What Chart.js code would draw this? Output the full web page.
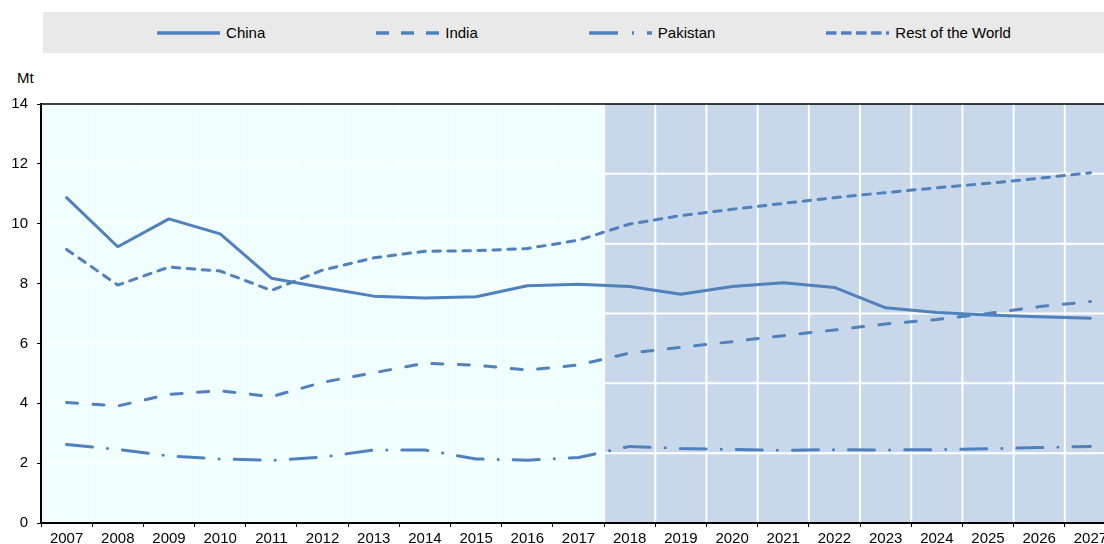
<!DOCTYPE html>
<html>
<head>
<meta charset="utf-8">
<script src="https://cdn.jsdelivr.net/npm/chart.js@4"></script>
<style>
  html, body { margin: 0; padding: 0; overflow: hidden; background: #fff; }
  body { width: 1104px; height: 544px; position: relative; font-family: "Liberation Sans", Arial, sans-serif; }
  #legend {
    position: absolute; left: 43px; top: 12px; width: 1082px; height: 41px;
    background: #e9e9e9; display: flex; justify-content: center; align-items: center; gap: 111px;
    font-size: 15px; color: #000;
  }
  .item { display: flex; align-items: center; }
  .item svg { margin-right: 6px; }
  #unit { position: absolute; left: 17px; top: 69px; font-size: 15px; line-height: 17px; color: #000; }
  #myChart { position: absolute; left: 0; top: 0; }
</style>
</head>
<body>
<div id="legend"></div>
<div id="unit">Mt</div>
<canvas id="myChart" width="1116" height="544"></canvas>
<script>
// años y valores (Mt)
const years = ["2007", "2008", "2009", "2010", "2011", "2012", "2013", "2014", "2015", "2016", "2017",
               "2018", "2019", "2020", "2021", "2022", "2023", "2024", "2025", "2026", "2027"]
const china = [10.87, 9.23, 10.16, 9.66, 8.18, 7.87, 7.58, 7.52, 7.56, 7.93, 7.98,
               7.9, 7.64, 7.9, 8.03, 7.87, 7.19, 7.03, 6.95, 6.89, 6.84]
const india = [4.03, 3.91, 4.3, 4.42, 4.22, 4.7, 5.02, 5.34, 5.27, 5.11, 5.28,
               5.68, 5.87, 6.06, 6.26, 6.45, 6.65, 6.8, 7.0, 7.23, 7.4]
const pakistan = [2.62, 2.46, 2.24, 2.14, 2.09, 2.2, 2.44, 2.44, 2.14, 2.1, 2.19,
                  2.56, 2.49, 2.46, 2.43, 2.45, 2.44, 2.45, 2.48, 2.52, 2.56]
const restWorld = [9.14, 7.95, 8.55, 8.42, 7.77, 8.45, 8.86, 9.08, 9.1, 9.17, 9.45,
                   9.99, 10.27, 10.48, 10.68, 10.87, 11.04, 11.2, 11.35, 11.52, 11.7]
const yTicks = [0, 2, 4, 6, 8, 10, 12, 14]
const projectionStart = "2018"
const projectionRows = 6

const azul = "#4f81bd"
const series = [
    { label: "China", data: china, dash: [], legendDash: "" },
    { label: "India", data: india, dash: [11, 15.5], legendDash: "13 12" },
    { label: "Pakistan", data: pakistan, dash: [26, 15, 0.1, 15], legendDash: "29 14 2 13" },
    { label: "Rest of the World", data: restWorld, dash: [7.5, 7.5], legendDash: "10.5 4.5" }
]

// leyenda en html
const legend = document.getElementById("legend")
legend.innerHTML = ""
for (const s of series) {
    legend.innerHTML += `<div class="item">
        <svg width="63" height="10"><line x1="0" y1="5" x2="63" y2="5" stroke="${azul}" stroke-width="3.5"
        ${s.legendDash ? `stroke-dasharray="${s.legendDash}"` : ""}/></svg>
        <span>${s.label}</span></div>`
}

// fondo y zona de proyeccion
const fondo = {
    id: "fondo",
    beforeDraw(chart) {
        const { ctx, chartArea: a } = chart
        ctx.save()
        ctx.fillStyle = "#f0feff"
        ctx.fillRect(a.left, a.top, a.right - a.left, a.bottom - a.top)
        ctx.restore()
    },
    beforeDatasetsDraw(chart) {
        const { ctx, chartArea: a, scales } = chart
        const x = scales.x, y = scales.y
        const band = x.getPixelForValue(1) - x.getPixelForValue(0)
        const start = years.indexOf(projectionStart)
        const x0 = x.getPixelForValue(start) - band / 2
        const top = y.getPixelForValue(yTicks[yTicks.length - 1])
        const bottom = y.getPixelForValue(0)
        ctx.save()
        ctx.fillStyle = "#c8d7ea"
        ctx.fillRect(x0, top, a.right - x0, bottom - top)
        ctx.strokeStyle = "#fff"
        ctx.lineWidth = 2
        ctx.beginPath()
        for (let i = start; i <= years.length; i++) {
            const px = x.getPixelForValue(i) - band / 2
            ctx.moveTo(px, top); ctx.lineTo(px, bottom)
        }
        for (let r = 1; r < projectionRows; r++) {
            const py = top + (bottom - top) * r / projectionRows
            ctx.moveTo(x0, py); ctx.lineTo(a.right, py)
        }
        ctx.stroke()
        ctx.strokeStyle = "#000"
        ctx.lineWidth = 1.5
        ctx.beginPath()
        ctx.moveTo(a.left, top); ctx.lineTo(a.right, top)
        ctx.stroke()
        ctx.restore()
    }
}

const fuente = { family: "'Liberation Sans', Arial, sans-serif", size: 15 }

const grafico = document.getElementById("myChart").getContext("2d")
const myChart = new Chart(grafico, {
    type: "line",
    data: {
        labels: years,
        datasets: series.map(s => ({
            label: s.label,
            data: s.data,
            borderColor: azul,
            borderWidth: 3,
            borderDash: s.dash,
            borderCapStyle: "round",
            borderJoinStyle: "round",
            pointRadius: 0,
            tension: 0,
            fill: false
        }))
    },
    options: {
        responsive: false,
        animation: false,
        layout: { padding: { top: 104, left: 0, right: 0, bottom: 0 } },
        plugins: {
            legend: { display: false },
            tooltip: { enabled: false }
        },
        scales: {
            x: {
                offset: true,
                grid: { offset: true, color: "#fff", lineWidth: 1, tickLength: 4, tickColor: "#000" },
                border: { color: "#000", width: 2, z: 1 },
                ticks: { color: "#000", font: fuente, padding: 3, maxRotation: 0, autoSkip: false },
                afterFit: scale => { scale.height = 21 }
            },
            y: {
                min: 0,
                max: 14,
                afterBuildTicks: scale => { scale.ticks = yTicks.map(v => ({ value: v })) },
                grid: { color: "#fff", lineWidth: 1, tickLength: 4, tickColor: "#000" },
                border: { color: "#000", width: 2, z: 1 },
                ticks: { color: "#000", font: fuente, padding: 9 },
                afterFit: scale => { scale.width = 41 }
            }
        }
    },
    plugins: [fondo]
})
</script>
</body>
</html>
